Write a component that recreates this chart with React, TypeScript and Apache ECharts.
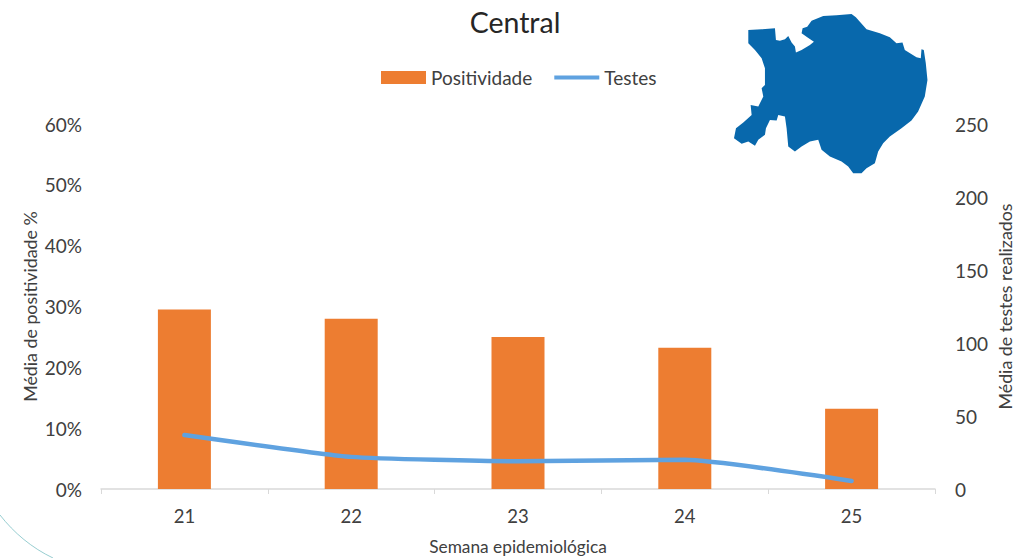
import React, { useEffect, useRef } from "react";
import * as echarts from "echarts";

const titleText = "Central";
const categories = ["21", "22", "23", "24", "25"];
const positividade = [29.5, 28, 25, 23.2, 13.2];
const testes = [37, 22, 19, 20, 5.5];
const mapOutline = [[85,90],[125,88],[165,85],[168,120],[180,122],[195,118],[205,108],[215,128],[225,140],[228,158],[245,150],[270,135],[282,125],[262,112],[245,100],[248,85],[262,80],[275,62],[310,48],[350,46],[395,42],[408,52],[420,65],[440,88],[480,100],[510,112],[530,130],[548,128],[555,150],[590,172],[603,175],[605,148],[612,150],[618,190],[623,240],[615,290],[595,335],[575,362],[545,385],[510,410],[490,430],[475,455],[465,490],[440,505],[425,520],[400,520],[385,500],[365,485],[330,470],[305,450],[295,420],[270,425],[245,440],[225,455],[205,440],[200,385],[195,350],[175,345],[170,362],[150,360],[138,385],[135,405],[115,420],[105,438],[85,425],[65,432],[42,415],[48,385],[70,368],[95,345],[92,315],[115,320],[130,290],[125,265],[135,255],[135,230],[135,205],[125,175],[105,150],[85,130],[85,110]];

const FONT = "Lato, 'Open Sans', sans-serif";
const TEXT = "#404040";

export default function App() {
  const ref = useRef<HTMLDivElement>(null);
  useEffect(() => {
    document.body.style.margin = "0";
    const chart = echarts.init(ref.current!, undefined, { renderer: "svg" });
    chart.setOption({
      animation: false,
      backgroundColor: "#ffffff",
      textStyle: { fontFamily: FONT },
      title: {
        text: titleText,
        left: 510,
        top: 2,
        textAlign: "center",
        textStyle: { fontFamily: FONT, fontSize: 28.5, fontWeight: "normal", color: "#262626" },
      },
      legend: {
        left: 376,
        top: 63,
        itemWidth: 45,
        itemHeight: 13,
        itemGap: 22,
        textStyle: { fontFamily: FONT, fontSize: 19, color: TEXT },
        data: [
          { name: "Positividade", icon: "rect" },
          { name: "Testes", icon: "path://M0 4.5H45V8.5H0Z" },
        ],
      },
      grid: { left: 101, right: 83, top: 124, bottom: 69, outerBoundsMode: "none" },
      xAxis: {
        type: "category",
        data: categories,
        name: "Semana epidemiológica",
        nameLocation: "middle",
        nameGap: 49,
        nameMoveOverlap: false,
        nameTextStyle: { fontFamily: FONT, fontSize: 17.3, color: TEXT },
        axisLine: { lineStyle: { color: "#d9d9d9", width: 1.5 } },
        axisTick: { show: true, length: 5, alignWithLabel: false, lineStyle: { color: "#d9d9d9" } },
        axisLabel: { fontFamily: FONT, fontSize: 18.5, color: TEXT, margin: 17 },
      },
      yAxis: [
        {
          type: "value",
          min: 0,
          max: 60,
          interval: 10,
          name: "Média de positividade %",
          nameLocation: "middle",
          nameGap: 62,
          nameMoveOverlap: false,
          nameTextStyle: { fontFamily: FONT, fontSize: 17.8, color: TEXT },
          splitLine: { show: false },
          axisLine: { show: false },
          axisTick: { show: false },
          axisLabel: { fontFamily: FONT, fontSize: 19, color: TEXT, margin: 19, formatter: "{value}%" },
        },
        {
          type: "value",
          min: 0,
          max: 250,
          interval: 50,
          name: "Média de testes realizados",
          nameLocation: "middle",
          nameGap: 61,
          nameMoveOverlap: false,
          nameTextStyle: { fontFamily: FONT, fontSize: 17.8, color: TEXT },
          splitLine: { show: false },
          axisLine: { show: false },
          axisTick: { show: false },
          axisLabel: { fontFamily: FONT, fontSize: 19, color: TEXT, margin: 20 },
        },
      ],
      series: [
        {
          name: "Positividade",
          type: "bar",
          data: positividade,
          barWidth: 53,
          itemStyle: { color: "#ED7D31" },
        },
        {
          name: "Testes",
          type: "line",
          yAxisIndex: 1,
          data: testes,
          smooth: 0.15,
          showSymbol: false,
          lineStyle: { color: "#5FA2E0", width: 4.5, cap: "round" },
          itemStyle: { color: "#5FA2E0" },
        },
      ],
      graphic: [
        {
          type: "group",
          x: 720,
          y: 0,
          scaleX: 1 / 3,
          scaleY: 1 / 3,
          silent: true,
          children: [
            { type: "polygon", shape: { points: mapOutline }, style: { fill: "#0868AC" } },
          ],
        },
        {
          type: "bezierCurve",
          silent: true,
          shape: { x1: 0, y1: 515, cpx1: 14, cpy1: 533, cpx2: 32, cpy2: 548, x2: 53, y2: 558 },
          style: { stroke: "#7CC0C4", lineWidth: 0.8, fill: "none" },
        },
      ],
    });
    return () => chart.dispose();
  }, []);
  return <div ref={ref} style={{ width: 1018, height: 558 }} />;
}
